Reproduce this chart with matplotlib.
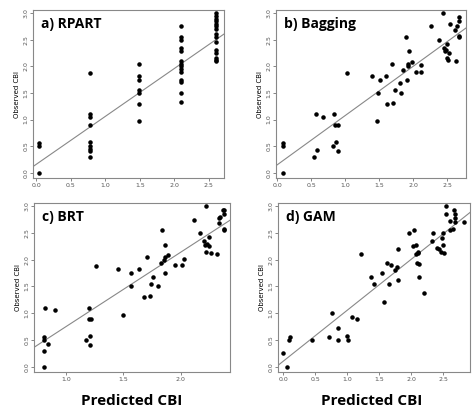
import matplotlib
matplotlib.use("Agg")
import matplotlib.pyplot as plt

# a) RPART: few distinct predicted values
a_x = [0.04]*3 + [0.78]*9 + [1.49]*7 + [2.09]*14 + [2.61]*15
a_y = [0, 0.5, 0.55,
       1.88, 1.1, 1.05, 0.9, 0.58, 0.5, 0.45, 0.4, 0.3,
       2.05, 1.82, 1.75, 1.55, 1.5, 1.3, 0.97,
       2.75, 2.55, 2.5, 2.35, 2.28, 2.1, 2.05, 2.0, 1.95, 1.9, 1.75, 1.7, 1.5, 1.33,
       3.0, 2.95, 2.9, 2.85, 2.8, 2.75, 2.7, 2.6, 2.55, 2.45, 2.3, 2.25, 2.15, 2.12, 2.1]

b_pts = [(0.08,0.55),(0.08,0.5),(0.08,0),(0.54,0.3),(0.57,1.1),(0.58,0.42),(0.67,1.05),
         (0.82,0.5),(0.84,1.1),(0.85,0.9),(0.86,0.58),(0.89,0.4),(0.9,0.9),(1.02,1.88),
         (1.4,1.82),(1.47,0.97),(1.49,1.5),(1.51,1.75),(1.6,1.82),(1.61,1.3),(1.69,2.05),
         (1.7,1.32),(1.74,1.55),(1.81,1.68),(1.82,1.5),(1.85,1.93),(1.9,2.55),(1.91,1.75),
         (1.92,2.0),(1.93,2.05),(1.94,2.28),(1.99,2.08),(2.04,1.9),(2.12,1.9),(2.12,2.02),
         (2.27,2.75),(2.38,2.5),(2.44,3.0),(2.46,2.35),(2.47,2.28),(2.49,2.3),(2.5,2.42),
         (2.5,2.15),(2.52,2.12),(2.53,2.25),(2.55,2.8),(2.62,2.68),(2.63,2.1),(2.64,2.75),
         (2.67,2.85),(2.67,2.92),(2.67,2.55),(2.67,2.58)]

c_pts = [(0.81,0.55),(0.81,0.5),(0.81,0.3),(0.81,0),(0.82,1.1),(0.84,0.42),(0.9,1.05),
         (1.17,0.5),(1.2,1.1),(1.2,0.9),(1.21,0.58),(1.21,0.4),(1.22,0.9),(1.26,1.88),
         (1.45,1.82),(1.5,0.97),(1.57,1.75),(1.57,1.5),(1.64,1.82),(1.68,1.3),(1.71,2.05),
         (1.73,1.32),(1.74,1.55),(1.76,1.68),(1.8,1.5),(1.83,1.93),(1.84,2.55),(1.85,2.0),
         (1.86,1.75),(1.86,2.05),(1.86,2.28),(1.89,2.08),(1.95,1.9),(2.01,1.9),(2.03,2.02),
         (2.12,2.75),(2.17,2.5),(2.2,2.35),(2.21,2.28),(2.22,3.0),(2.23,2.3),(2.22,2.15),
         (2.25,2.42),(2.25,2.25),(2.26,2.12),(2.32,2.1),(2.33,2.78),(2.33,2.68),(2.34,2.8),
         (2.37,2.92),(2.38,2.85),(2.38,2.58),(2.38,2.55),(2.38,2.93)]

d_pts = [(0.0,0.26),(0.06,0),(0.09,0.5),(0.11,0.55),(0.45,0.5),(0.72,0.55),(0.76,1.0),
         (0.85,0.72),(0.85,0.5),(1.0,0.58),(1.02,0.5),(1.08,0.93),(1.16,0.9),(1.22,2.1),
         (1.38,1.68),(1.42,1.55),(1.54,1.75),(1.58,1.2),(1.62,1.93),(1.65,1.55),(1.68,1.9),
         (1.75,1.8),(1.78,1.87),(1.8,1.62),(1.8,2.2),(1.97,2.5),(2.03,2.25),(2.04,2.55),
         (2.08,2.27),(2.08,2.1),(2.09,1.93),(2.1,2.12),(2.11,2.15),(2.13,1.92),(2.12,1.68),
         (2.2,1.38),(2.33,2.35),(2.34,2.5),(2.41,2.22),(2.43,2.2),(2.47,2.15),(2.48,2.4),
         (2.5,2.5),(2.5,2.27),(2.52,2.13),(2.55,3.0),(2.55,2.85),(2.6,2.73),(2.6,2.55),
         (2.66,2.58),(2.67,2.93),(2.68,2.85),(2.68,2.78),(2.68,2.7),(2.82,2.7)]

# fitted lines (intercept, slope)
fits = {"a": (0.16, 0.90), "b": (0.15, 0.925), "c": (-0.64, 1.39), "d": (0.10, 0.953)}

panels = [
    ("a) RPART", a_x, a_y, fits["a"], (-0.05, 2.72), [0.0, 0.5, 1.0, 1.5, 2.0, 2.5], "a"),
    ("b) Bagging", [p[0] for p in b_pts], [p[1] for p in b_pts], fits["b"], (-0.02, 2.78),
     [0.0, 0.5, 1.0, 1.5, 2.0, 2.5], "b"),
    ("c) BRT", [p[0] for p in c_pts], [p[1] for p in c_pts], fits["c"], (0.72, 2.43),
     [1.0, 1.5, 2.0], "c"),
    ("d) GAM", [p[0] for p in d_pts], [p[1] for p in d_pts], fits["d"], (-0.08, 2.92),
     [0.0, 0.5, 1.0, 1.5, 2.0, 2.5], "d"),
]

# axes rectangles in pixels: left, top, right, bottom
rects = {"a": (33, 10, 224, 178), "b": (276, 10, 466, 178),
         "c": (34, 203, 230, 372), "d": (278, 203, 470, 372)}

W, H = 474, 411
fig = plt.figure(figsize=(W / 100, H / 100), dpi=100)

for title, xs, ys, (b0, b1), xlim, xticks, key in panels:
    l, t, r, b = rects[key]
    ax = fig.add_axes([l / W, 1 - b / H, (r - l) / W, (b - t) / H])
    ax.scatter(xs, ys, s=5, color="black", zorder=3)
    ax.plot(xlim, [b0 + b1 * xlim[0], b0 + b1 * xlim[1]], color="#888888", lw=0.8)
    ax.set_xlim(xlim)
    ax.set_ylim(-0.1, 3.06)
    ax.set_xticks(xticks)
    ax.set_yticks([0.0, 0.5, 1.0, 1.5, 2.0, 2.5, 3.0])
    ax.tick_params(labelsize=4.5, length=2, width=0.5, colors="#555555", pad=1.5)
    for lab in ax.get_yticklabels():
        lab.set_rotation(90)
        lab.set_va("center")
    for s in ax.spines.values():
        s.set_color("#888888")
        s.set_linewidth(0.8)
    ax.set_ylabel("Observed CBI", fontsize=5, labelpad=2)
    ax.text(0.04, 0.96, title, transform=ax.transAxes, fontsize=10, fontweight="bold",
            family="Open Sans", va="top", ha="left")

fig.text(132 / W, 1 - 401 / H, "Predicted CBI", ha="center", va="center",
         fontsize=11, fontweight="bold", family="Open Sans")
fig.text(372 / W, 1 - 401 / H, "Predicted CBI", ha="center", va="center",
         fontsize=11, fontweight="bold", family="Open Sans")

fig.savefig("out.png", dpi=100)
